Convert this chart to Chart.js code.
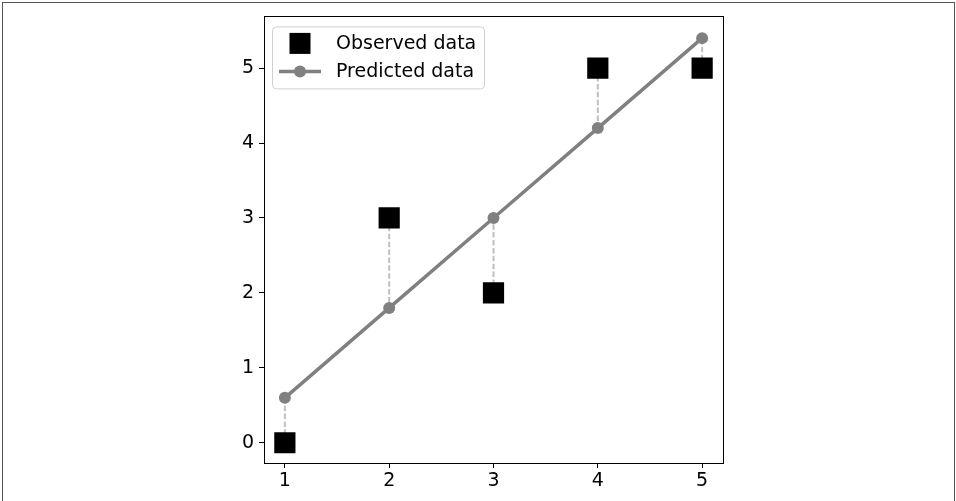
<!DOCTYPE html>
<html>
<head>
<meta charset="utf-8">
<script src="https://cdn.jsdelivr.net/npm/chart.js@4"></script>
<style>
  html, body { margin: 0; padding: 0; background: #fff; }
  #wrap { position: relative; width: 956px; height: 501px; }
  #frame { position: absolute; left: 2px; top: 2px; width: 951px; height: 510px;
           border: 1px solid #555; pointer-events: none; }
  canvas { display: block; }
</style>
</head>
<body>
<div id="wrap">
  <canvas id="chart" width="956" height="501"></canvas>
  <div id="frame"></div>
</div>
<script>
// data
const xValues = [1, 2, 3, 4, 5];
const observed = [0, 3, 2, 5, 5];
const predicted = [0.6, 1.8, 3.0, 4.2, 5.4];
const xTicks = [1, 2, 3, 4, 5];
const yTicks = [0, 1, 2, 3, 4, 5];
const labels = ['Observed data', 'Predicted data'];

const FONT = '"DejaVu Sans", sans-serif';

// dashed residual lines, one small dataset each (drawn underneath)
const residuals = xValues.map((x, i) => ({
  label: 'residual',
  order: 3,
  data: [{ x, y: observed[i] }, { x, y: predicted[i] }],
  showLine: true,
  borderColor: '#bfbfbf',
  borderWidth: 2,
  borderDash: [5.5, 2.4],
  pointRadius: 0
}));

const frameBox = {
  id: 'frameBox',
  afterDatasetsDraw(chart) {
    const a = chart.chartArea;
    const ctx = chart.ctx;
    ctx.save();
    ctx.strokeStyle = '#000';
    ctx.lineWidth = 1;
    ctx.strokeRect(Math.round(a.left) + 0.5, Math.round(a.top) + 0.5,
      Math.round(a.right - a.left), Math.round(a.bottom - a.top));
    ctx.restore();
  }
};

const legendBox = {
  id: 'legendBox',
  afterDraw(chart) {
    const ctx = chart.ctx;
    const a = chart.chartArea;
    const x0 = a.left + 8, y0 = a.top + 10, w = 212, h = 62;
    ctx.save();
    ctx.fillStyle = 'rgba(255,255,255,0.8)';
    ctx.strokeStyle = '#d0d0d0';
    ctx.lineWidth = 1;
    ctx.beginPath();
    ctx.roundRect(x0 + 0.5, y0 + 0.5, w, h, 4);
    ctx.fill();
    ctx.stroke();

    const mx = x0 + 28;
    const r1 = y0 + 17, r2 = y0 + 45;
    ctx.fillStyle = '#000';
    ctx.fillRect(mx - 10.5, r1 - 10.5, 21, 21);

    ctx.strokeStyle = '#808080';
    ctx.lineWidth = 3.5;
    ctx.beginPath();
    ctx.moveTo(mx - 21, r2);
    ctx.lineTo(mx + 21, r2);
    ctx.stroke();
    ctx.fillStyle = '#808080';
    ctx.beginPath();
    ctx.arc(mx, r2, 6, 0, Math.PI * 2);
    ctx.fill();

    ctx.fillStyle = '#000';
    ctx.font = '19px ' + FONT;
    ctx.textBaseline = 'middle';
    ctx.fillText(labels[0], x0 + 64, r1 + 1);
    ctx.fillText(labels[1], x0 + 64, r2 + 1);
    ctx.restore();
  }
};

new Chart(document.getElementById('chart'), {
  type: 'scatter',
  data: {
    datasets: [
      {
        label: labels[1],
        order: 1,
        data: xValues.map((x, i) => ({ x, y: predicted[i] })),
        showLine: true,
        borderColor: '#808080',
        borderWidth: 3.5,
        pointRadius: 6,
        pointBackgroundColor: '#808080',
        pointBorderWidth: 0
      },
      {
        label: labels[0],
        order: 2,
        data: xValues.map((x, i) => ({ x, y: observed[i] })),
        pointStyle: 'rect',
        pointRadius: 15,
        backgroundColor: '#000',
        borderWidth: 0
      },
      ...residuals
    ]
  },
  options: {
    responsive: false,
    animation: false,
    layout: { padding: { left: 0, right: 233, top: 15, bottom: 0 } },
    plugins: { legend: { display: false }, tooltip: { enabled: false } },
    scales: {
      x: {
        type: 'linear',
        min: 0.8,
        max: 5.2,
        afterBuildTicks: s => { s.ticks = xTicks.map(v => ({ value: v })); },
        afterFit: s => { s.height = 38; },
        grid: { drawOnChartArea: false, tickLength: 5, tickColor: '#000', tickWidth: 1 },
        border: { display: false },
        ticks: { color: '#000', font: { family: FONT, size: 19 }, padding: 2, maxRotation: 0 }
      },
      y: {
        type: 'linear',
        min: -0.27,
        max: 5.69,
        afterBuildTicks: s => { s.ticks = yTicks.map(v => ({ value: v })); },
        afterFit: s => { s.width = 264; },
        grid: { drawOnChartArea: false, tickLength: 5, tickColor: '#000', tickWidth: 1 },
        border: { display: false },
        ticks: { color: '#000', font: { family: FONT, size: 19 }, padding: 5 }
      }
    }
  },
  plugins: [frameBox, legendBox]
});
</script>
</body>
</html>
